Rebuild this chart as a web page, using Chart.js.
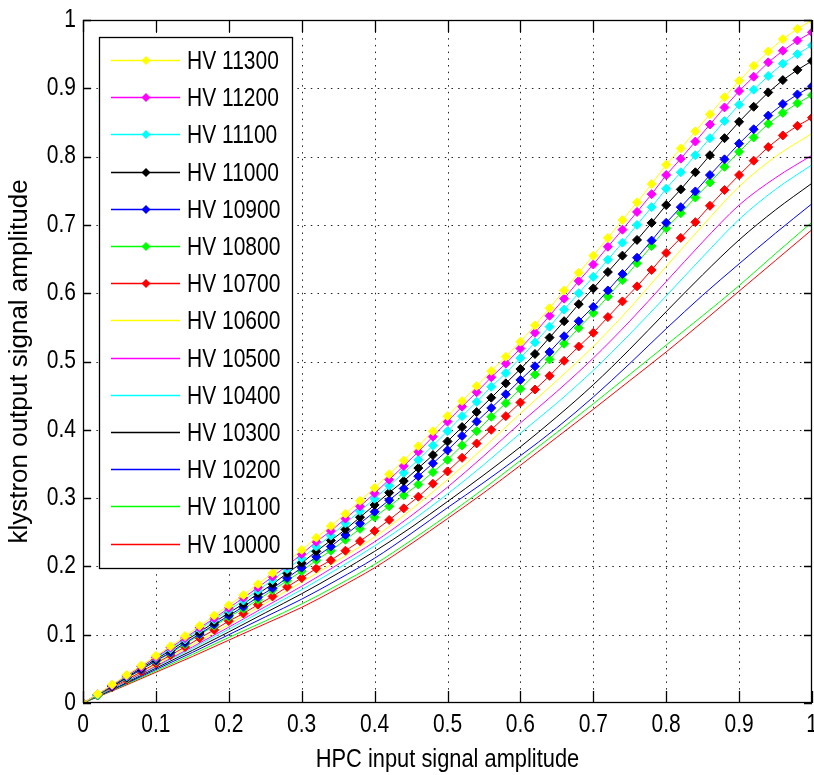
<!DOCTYPE html>
<html><head><meta charset="utf-8">
<script src="https://cdn.jsdelivr.net/npm/chart.js@4.4.0/dist/chart.umd.min.js"></script>
<style>html,body{margin:0;padding:0;background:#fff;overflow:hidden}#wrap{width:814px;height:775px;position:relative}</style>
</head><body><div id="wrap"><canvas id="c" width="814" height="775"></canvas></div>
<script>
// ---------- data ----------
const xTickLabels = ['0','0.1','0.2','0.3','0.4','0.5','0.6','0.7','0.8','0.9','1'];
const yTickLabels = ['0','0.1','0.2','0.3','0.4','0.5','0.6','0.7','0.8','0.9','1'];
const xTitle = 'HPC input signal amplitude';
const yTitle = 'klystron output signal amplitude';
const seriesNames = ['HV 11300','HV 11200','HV 11100','HV 11000','HV 10900','HV 10800','HV 10700',
                     'HV 10600','HV 10500','HV 10400','HV 10300','HV 10200','HV 10100','HV 10000'];
// sample positions: marker series every 0.02, plain series every 0.05
const xFine = [0,0.02,0.04,0.06,0.08,0.1,0.12,0.14,0.16,0.18,0.2,0.22,0.24,0.26,0.28,0.3,0.32,0.34,0.36,0.38,0.4,
               0.42,0.44,0.46,0.48,0.5,0.52,0.54,0.56,0.58,0.6,0.62,0.64,0.66,0.68,0.7,0.72,0.74,0.76,0.78,0.8,
               0.82,0.84,0.86,0.88,0.9,0.92,0.94,0.96,0.98,1];
const xCoarse = [0,0.05,0.1,0.15,0.2,0.25,0.3,0.35,0.4,0.45,0.5,0.55,0.6,0.65,0.7,0.75,0.8,0.85,0.9,0.95,1];

const hv11300 = [0,.013,.027,.041,.055,.069,.083,.098,.113,.128,.143,.158,.174,.190,.207,.224,
  .242,.259,.277,.296,.315,.335,.355,.376,.398,.420,.442,.464,.486,.507,.529,.553,.578,.604,.630,.655,
  .681,.707,.733,.760,.788,.812,.837,.862,.887,.911,.933,.954,.972,.987,1.0];
const hv11200 = [0,.013,.026,.040,.053,.067,.081,.095,.110,.124,.139,.154,.169,.185,.201,.218,
  .236,.252,.270,.288,.307,.327,.347,.368,.390,.412,.434,.455,.477,.497,.519,.542,.567,.592,.618,.642,
  .668,.693,.719,.745,.773,.797,.822,.847,.872,.896,.917,.938,.955,.970,.982];
const hv11100 = [0,.012,.026,.039,.053,.066,.079,.093,.108,.122,.136,.150,.165,.180,.196,.212,
  .229,.245,.263,.281,.299,.318,.337,.356,.377,.398,.420,.441,.463,.483,.505,.528,.551,.576,.600,.624,
  .649,.674,.700,.726,.753,.777,.802,.827,.852,.876,.898,.918,.936,.950,.963];
const hv11000 = [0,.012,.025,.038,.051,.064,.077,.091,.104,.118,.132,.145,.160,.174,.190,.205,
  .222,.238,.254,.272,.290,.308,.325,.344,.363,.383,.404,.426,.447,.468,.489,.511,.535,.559,.584,.607,
  .631,.655,.678,.703,.729,.752,.777,.802,.827,.851,.873,.894,.912,.927,.940];
const hv10900 = [0,.012,.024,.037,.049,.062,.074,.088,.101,.115,.128,.141,.155,.168,.183,.198,
  .214,.229,.246,.263,.280,.297,.314,.332,.351,.370,.391,.412,.432,.452,.473,.493,.514,.537,.559,.580,
  .604,.628,.652,.677,.703,.726,.749,.773,.796,.819,.840,.860,.877,.891,.903];
const hv10800 = [0,.011,.024,.036,.049,.061,.073,.086,.100,.113,.126,.138,.151,.165,.179,.193,
  .209,.223,.239,.255,.272,.288,.304,.320,.338,.356,.377,.398,.419,.439,.460,.481,.503,.526,.549,.571,
  .595,.619,.644,.669,.695,.717,.740,.762,.785,.807,.828,.848,.864,.878,.890];
const hv10700 = [0,.011,.023,.034,.046,.058,.070,.082,.095,.107,.120,.131,.144,.156,.170,.183,
  .197,.209,.223,.237,.252,.268,.285,.302,.321,.339,.359,.380,.400,.420,.440,.459,.479,.501,.522,.542,
  .565,.588,.610,.634,.659,.681,.704,.728,.751,.773,.794,.814,.831,.845,.857];

const hv10600 = [0,.028,.056,.085,.115,.146,.177,.209,.243,.283,.327,.374,.424,.472,.522,.578,.639,.699,.756,.800,.834];
const hv10500 = [0,.027,.054,.082,.111,.141,.171,.203,.236,.274,.316,.362,.410,.456,.505,.559,.617,.675,.729,.769,.802];
const hv10400 = [0,.026,.053,.080,.108,.137,.166,.197,.230,.266,.306,.349,.395,.439,.487,.540,.596,.653,.708,.752,.788];
const hv10300 = [0,.025,.051,.077,.104,.132,.160,.190,.222,.257,.295,.334,.375,.419,.466,.518,.573,.627,.678,.722,.761];
const hv10200 = [0,.024,.049,.074,.100,.126,.152,.181,.212,.248,.286,.323,.362,.403,.448,.497,.548,.597,.643,.688,.731];
const hv10100 = [0,.023,.047,.071,.096,.120,.145,.173,.203,.238,.275,.314,.355,.396,.438,.481,.524,.567,.611,.658,.704];
const hv10000 = [0,.022,.045,.068,.092,.116,.140,.168,.198,.233,.270,.308,.348,.389,.430,.472,.514,.558,.603,.648,.693];

// ---------- styling ----------
const seriesValues = [hv11300,hv11200,hv11100,hv11000,hv10900,hv10800,hv10700,
                      hv10600,hv10500,hv10400,hv10300,hv10200,hv10100,hv10000];
const palette = ['#ffff00','#ff00ff','#00ffff','#000000','#0000ff','#00ff00','#ff0000'];
const FONT_FAMILY = '"Liberation Sans",Arial,Helvetica,sans-serif';
const TICK_FONT = {family: FONT_FAMILY, size: 25, weight: 'normal'};
const TITLE_FONT = {family: FONT_FAMILY, size: 26, weight: 'normal'};
const SQUEEZE = 0.84; // horizontal narrowing of upright text (condensed look of the original)
const PLOT_RIGHT = 812;

const datasets = seriesValues.map((vals, i) => {
  const withMarkers = i < 7;
  const xs = withMarkers ? xFine : xCoarse;
  const color = palette[i % 7];
  return {
    label: seriesNames[i],
    data: vals.map((v, k) => ({x: xs[k], y: v})),
    borderColor: color,
    backgroundColor: color,
    borderWidth: 1,
    pointStyle: 'rectRot',
    pointRadius: withMarkers ? 4.5 : 0,
    pointBackgroundColor: color,
    pointBorderColor: color,
    pointBorderWidth: 1,
    tension: 0,
    cubicInterpolationMode: withMarkers ? 'default' : 'monotone',
    _markers: withMarkers
  };
});

const squeezeText = {
  id: 'squeezeText',
  beforeInit(chart) {
    const ctx = chart.ctx;
    const orig = ctx.fillText.bind(ctx);
    ctx.fillText = function (text, x, y, maxWidth) {
      const m = ctx.getTransform();
      if (Math.abs(m.b) > 0.01) { return orig(text, x, y); }
      ctx.save();
      ctx.translate(x, y);
      ctx.scale(SQUEEZE, 1);
      orig(text, 0, 0);
      ctx.restore();
    };
  },
  afterLayout(chart) {
    // let the last x label hang over the edge, as in the original
    const a = chart.chartArea;
    const x = chart.scales.x;
    if (Math.abs(a.right - PLOT_RIGHT) > 0.5) {
      a.right = PLOT_RIGHT;
      a.width = a.right - a.left;
      x.right = PLOT_RIGHT;
      x.width = x.right - x.left;
      x.configure();
      x._labelItems = null;
      x._gridLineItems = null;
    }
  }
};

const frame = {
  id: 'matlabFrame',
  beforeDatasetsDraw(chart) {
    const {ctx, chartArea: a, scales: {x, y}} = chart;
    ctx.save();
    ctx.strokeStyle = '#222';
    ctx.lineWidth = 1;
    ctx.setLineDash([1.5, 5.2]);
    x.ticks.forEach(t => {
      if (t.value <= 0 || t.value >= 1) return;
      const px = Math.round(x.getPixelForValue(t.value)) + 0.5;
      ctx.beginPath(); ctx.moveTo(px, a.bottom); ctx.lineTo(px, a.top); ctx.stroke();
    });
    y.ticks.forEach(t => {
      if (t.value <= 0 || t.value >= 1) return;
      const py = Math.round(y.getPixelForValue(t.value)) + 0.5;
      ctx.beginPath(); ctx.moveTo(a.left, py); ctx.lineTo(a.right, py); ctx.stroke();
    });
    ctx.restore();
  },
  afterDatasetsDraw(chart) {
    const {ctx, chartArea: a, scales: {x, y}} = chart;
    ctx.save();
    ctx.strokeStyle = '#000';
    ctx.lineWidth = 1.3;
    ctx.setLineDash([]);
    ctx.strokeRect(a.left + 0.5, a.top + 0.5, a.right - a.left - 1, a.bottom - a.top - 1);
    x.ticks.forEach(t => {
      const px = Math.round(x.getPixelForValue(t.value)) + 0.5;
      ctx.beginPath();
      ctx.moveTo(px, a.bottom); ctx.lineTo(px, a.bottom - 12);
      ctx.moveTo(px, a.top); ctx.lineTo(px, a.top + 12);
      ctx.stroke();
    });
    y.ticks.forEach(t => {
      const py = Math.round(y.getPixelForValue(t.value)) + 0.5;
      ctx.beginPath();
      ctx.moveTo(a.left, py); ctx.lineTo(a.left + 8, py);
      ctx.moveTo(a.right, py); ctx.lineTo(a.right - 8, py);
      ctx.stroke();
    });
    // legend box
    const L = {x0: 99, y0: 37, x1: 292, y1: 568};
    ctx.fillStyle = '#fff';
    ctx.fillRect(L.x0, L.y0, L.x1 - L.x0, L.y1 - L.y0);
    ctx.lineWidth = 1.3;
    ctx.strokeStyle = '#000';
    ctx.strokeRect(L.x0 + 0.5, L.y0 + 0.5, L.x1 - L.x0, L.y1 - L.y0);
    const step = 37.2;
    ctx.font = '25px ' + FONT_FAMILY;
    ctx.textBaseline = 'middle';
    ctx.textAlign = 'left';
    chart.data.datasets.forEach((ds, i) => {
      const cy = Math.round(L.y0 + 23 + step * i) + 0.5;
      ctx.strokeStyle = ds.borderColor;
      ctx.lineWidth = 1.5;
      ctx.beginPath(); ctx.moveTo(111, cy); ctx.lineTo(180, cy); ctx.stroke();
      if (ds._markers) {
        ctx.fillStyle = ds.borderColor;
        ctx.beginPath();
        ctx.moveTo(146, cy - 4.5); ctx.lineTo(150.5, cy); ctx.lineTo(146, cy + 4.5); ctx.lineTo(141.5, cy);
        ctx.closePath(); ctx.fill();
      }
      ctx.fillStyle = '#000';
      ctx.fillText(ds.label, 187, cy + 2);
    });
    ctx.restore();
  }
};

new Chart(document.getElementById('c'), {
  type: 'line',
  data: {datasets},
  options: {
    responsive: false,
    devicePixelRatio: 1,
    animation: false,
    events: [],
    layout: {padding: {top: 20, right: 2, left: 0, bottom: 0}},
    plugins: {legend: {display: false}, tooltip: {enabled: false}},
    scales: {
      x: {
        type: 'linear', min: 0, max: 1,
        afterBuildTicks: s => { s.ticks = xTickLabels.map(l => ({value: parseFloat(l)})); },
        afterFit: s => { s.height = 72; s.paddingLeft = 0; s.paddingRight = 0; },
        ticks: {callback: (v, i) => xTickLabels[i], font: TICK_FONT, color: '#000', padding: 7, maxRotation: 0, minRotation: 0, autoSkip: false},
        grid: {display: false, drawTicks: false},
        border: {display: false},
        title: {display: true, text: xTitle, font: TITLE_FONT, color: '#000', padding: {top: 0, bottom: 0}}
      },
      y: {
        type: 'linear', min: 0, max: 1,
        afterBuildTicks: s => { s.ticks = yTickLabels.map(l => ({value: parseFloat(l)})); },
        afterFit: s => { s.width = 83; s.paddingTop = 0; s.paddingBottom = 0; },
        ticks: {callback: (v, i) => yTickLabels[i], font: TICK_FONT, color: '#000', padding: 7, autoSkip: false},
        grid: {display: false, drawTicks: false},
        border: {display: false},
        title: {display: true, text: yTitle, font: TITLE_FONT, color: '#000', padding: {top: 4, bottom: 0}}
      }
    }
  },
  plugins: [squeezeText, frame]
});
</script></body></html>
